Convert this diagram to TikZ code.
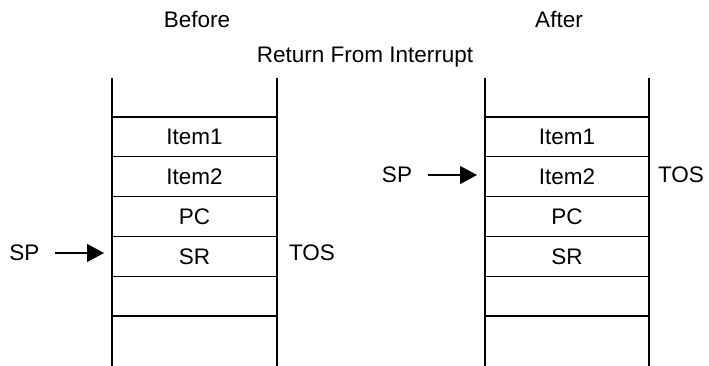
\documentclass[tikz,border=0pt]{standalone}
\usepackage{fontspec}
\setmainfont{Liberation Sans}
\usetikzlibrary{positioning,arrows.meta}

\tikzset{
	cell/.style={draw, line width=1.1pt, minimum width=165pt, minimum height=39.8pt, inner sep=0pt, outer sep=0pt},
	side/.style={line width=1.1pt},
	ptr/.style={line width=1.2pt, -{Triangle[length=17pt, width=18pt]}, shorten <=12pt, shorten >=8pt},
	lbl/.style={anchor=base}
}

\begin{document}
\begin{tikzpicture}[x=1pt, y=-1pt, font=\fontsize{22.5}{27}\selectfont]
	\useasboundingbox (0,0) rectangle (709,366);
	
	\node[lbl] (before) at (197,28) {Before};
	\node[lbl] (after) at (559,28) {After};
	\node[lbl] (title) at (365,63) {Return From Interrupt};
	
	% before stack
	\node[cell] (b1) at (194.5,136.9) {Item1};
	\node[cell, below=0pt of b1] (b2) {Item2};
	\node[cell, below=0pt of b2] (b3) {PC};
	\node[cell, below=0pt of b3] (b4) {SR};
	\node[cell, below=0pt of b4] (b5) {};
	
	\coordinate (bTL) at (112,78);
	\coordinate (bBL) at (112,366);
	\coordinate (bTR) at (277,78);
	\coordinate (bBR) at (277,366);
	\draw[side] (bTL) -- (bBL);
	\draw[side] (bTR) -- (bBR);
	
	\node (spB) at (24.5,253) {SP};
	\node (tosB) at (312,253) {TOS};
	\draw[ptr] (spB.east) -- (b4.west |- spB.east);
	
	% after stack
	\node[cell, minimum width=164pt] (a1) at (567,136.9) {Item1};
	\node[cell, minimum width=164pt, below=0pt of a1] (a2) {Item2};
	\node[cell, minimum width=164pt, below=0pt of a2] (a3) {PC};
	\node[cell, minimum width=164pt, below=0pt of a3] (a4) {SR};
	\node[cell, minimum width=164pt, below=0pt of a4] (a5) {};
	
	\coordinate (aTL) at (485,78);
	\coordinate (aBL) at (485,366);
	\coordinate (aTR) at (649,78);
	\coordinate (aBR) at (649,366);
	\draw[side] (aTL) -- (aBL);
	\draw[side] (aTR) -- (aBR);
	
	\node (spA) at (397,175) {SP};
	\node (tosA) at (681,175) {TOS};
	\draw[ptr] (spA.east) -- (a2.west |- spA.east);
\end{tikzpicture}
\end{document}
